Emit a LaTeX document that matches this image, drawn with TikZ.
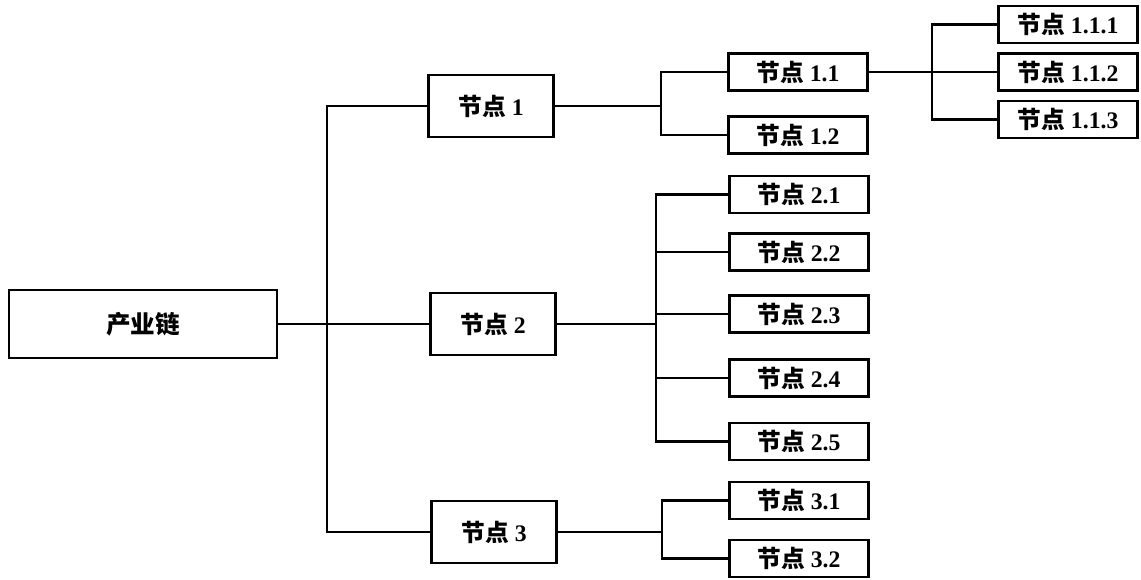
\documentclass[tikz,border=0pt]{standalone}
\usepackage{fontspec}
\setmainfont{Liberation Serif}
\newfontfamily\hei{Noto Sans CJK SC}
\usepackage{tikz}

\tikzset{
  box/.style={draw, line width=1.5pt, inner sep=0pt, font=\fontsize{13.5}{15}\selectfont\bfseries},
  rootbox/.style={box, minimum width=5.36cm, minimum height=1.36cm, font=\fontsize{14}{16}\selectfont\bfseries},
  midbox/.style={box, minimum width=2.5cm, minimum height=1.24cm},
  leafbox/.style={box, minimum width=2.78cm, minimum height=0.74cm},
  link/.style={line width=1.2pt}
}

\begin{document}
\begin{tikzpicture}[x=0.02cm, y=-0.02cm]
				\useasboundingbox (0,0) rectangle (1141,579);
				% boxes
				\node [rootbox] (root) at (143,324){\hei 产业链};
				\node [midbox] (n1) at (491,106){{\hei 节点} 1};
				\node [midbox] (n2) at (493,324){{\hei 节点} 2};
				\node [midbox] (n3) at (494,532){{\hei 节点} 3};
				\node [leafbox] (n11) at (798,72){{\hei 节点} 1.1};
				\node [leafbox] (n12) at (798,135){{\hei 节点} 1.2};
				\node [leafbox] (n111) at (1068,24.5){{\hei 节点} 1.1.1};
				\node [leafbox] (n112) at (1068,72){{\hei 节点} 1.1.2};
				\node [leafbox] (n113) at (1068,119.5){{\hei 节点} 1.1.3};
				\node [leafbox] (n21) at (799,194.5){{\hei 节点} 2.1};
				\node [leafbox] (n22) at (799,252){{\hei 节点} 2.2};
				\node [leafbox] (n23) at (799,314){{\hei 节点} 2.3};
				\node [leafbox] (n24) at (799,378){{\hei 节点} 2.4};
				\node [leafbox] (n25) at (799,441.5){{\hei 节点} 2.5};
				\node [leafbox] (n31) at (799,500.5){{\hei 节点} 3.1};
				\node [leafbox] (n32) at (799,558.5){{\hei 节点} 3.2};
				% branch points
				\coordinate (t) at (327,0);
				\coordinate (b1) at (661,0);
				\coordinate (b11) at (932,0);
				\coordinate (b2) at (656,0);
				\coordinate (b3) at (662,0);
				% connectors
				\draw [link](root.east)--(n2.west);
				\draw [link](n1.west)--(n1.west -| t)--(n3.west -| t)--(n3.west);
				\draw [link](n1.east)--(n1.east -| b1);
				\draw [link](n11.west)--(n11.west -| b1)--(n12.west -| b1)--(n12.west);
				\draw [link](n11.east)--(n112.west);
				\draw [link](n111.west)--(n111.west -| b11)--(n113.west -| b11)--(n113.west);
				\draw [link](n2.east)--(n2.east -| b2);
				\draw [link](n21.west)--(n21.west -| b2)--(n25.west -| b2)--(n25.west);
				\draw [link](n22.west)--(n22.west -| b2);
				\draw [link](n23.west)--(n23.west -| b2);
				\draw [link](n24.west)--(n24.west -| b2);
				\draw [link](n3.east)--(n3.east -| b3);
				\draw [link](n31.west)--(n31.west -| b3)--(n32.west -| b3)--(n32.west);
			\end{tikzpicture}
\end{document}
